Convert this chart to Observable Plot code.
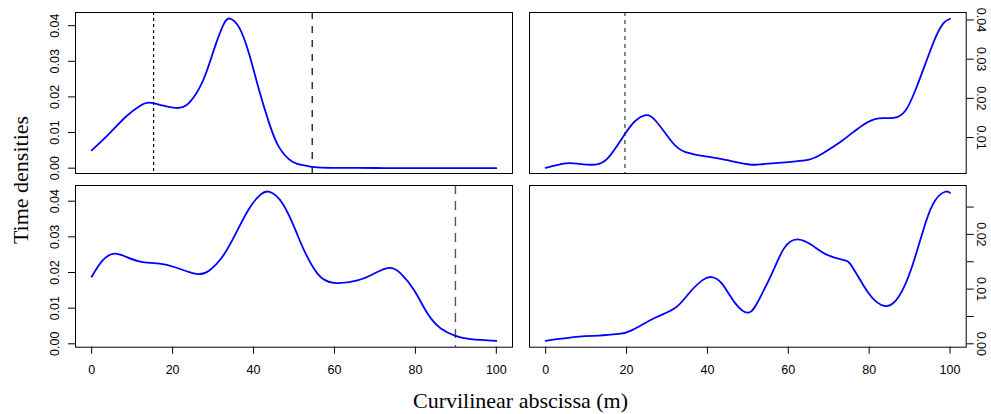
<!DOCTYPE html>
<html><head><meta charset="utf-8">
<script src="https://cdn.jsdelivr.net/npm/d3@7"></script>
<script src="https://cdn.jsdelivr.net/npm/@observablehq/plot@0.6"></script>
<style>
html,body{margin:0;padding:0;background:#fff;}
#chart{position:relative;width:991px;height:414px;overflow:hidden;background:#fff;}
#chart svg{position:absolute;}
.lab{position:absolute;font-family:"Liberation Serif","Times New Roman",serif;font-size:22px;line-height:1;color:#000;white-space:nowrap;}
</style></head><body><div id="chart"></div>
<script>
// ---- data ----
const xTicks = [0, 20, 40, 60, 80, 100];
const yTicksA = [0, 0.01, 0.02, 0.03, 0.04];
const yTicksTR = [0.01, 0.02, 0.03, 0.04];
const yTicksBR = [0, 0.005, 0.01, 0.015, 0.02, 0.025];
const yLabelsBR = [0, 0.01, 0.02];

const tlX = [0, 4.35, 8.5, 11.8, 14.2, 17.5, 20.8, 23.3, 25.8, 28.2, 30.7, 32.7, 34.1, 36.4, 38.9, 41.4, 43.9, 46.3, 49.6, 52.5, 55, 60, 70, 80, 100];
const tlV = [0.0050, 0.0097, 0.0145, 0.0174, 0.0184, 0.0176, 0.0169, 0.0176, 0.0209, 0.0265, 0.0349, 0.0406, 0.0420, 0.0396, 0.0321, 0.0218, 0.0125, 0.0059, 0.0018, 0.0008, 0.0003, 0.0001, 0.00005, 0.0000, 0.0000];
const tlRuleDotted = [15.3];
const tlRuleDashed = [54.5];

const trX = [0, 4.9, 8.2, 12.3, 15.6, 19.6, 22.2, 24.7, 27.2, 31.3, 34.6, 39.5, 43.6, 50, 53.6, 59.3, 65.1, 68.4, 73.3, 78.3, 82.4, 86.1, 89, 91.4, 93.9, 96.4, 98.4, 100];
const trV = [0.0023, 0.0034, 0.0033, 0.0031, 0.0050, 0.0109, 0.0143, 0.0157, 0.0143, 0.0088, 0.0063, 0.0052, 0.0045, 0.0032, 0.0032, 0.0037, 0.0044, 0.0059, 0.0092, 0.0131, 0.0149, 0.0150, 0.0169, 0.0220, 0.0288, 0.0355, 0.0392, 0.0403];
const trRuleDotted = [19.6];

const blX = [0, 2.7, 5.6, 8.5, 12.6, 16.7, 20.8, 25.8, 29, 32.3, 35.6, 38.9, 41.8, 44.0, 47.2, 50.4, 52.5, 55.8, 59.9, 65.7, 69.8, 73.5, 76.4, 79.7, 83, 86.3, 89.9, 93.7, 100];
const blV = [0.0188, 0.0234, 0.0253, 0.0244, 0.0229, 0.0225, 0.0214, 0.0196, 0.0205, 0.0244, 0.0309, 0.0379, 0.0419, 0.0426, 0.0393, 0.0318, 0.0262, 0.0197, 0.0171, 0.0178, 0.0197, 0.0213, 0.0197, 0.0150, 0.0085, 0.0043, 0.0022, 0.0013, 0.0008];
const blRuleDashed = [89.9];

const brX = [0, 8.2, 13.2, 18.1, 21.4, 27.2, 32.1, 35.4, 38.7, 41, 43.6, 46.9, 50.2, 52.7, 56, 58.9, 62.2, 65.9, 69.2, 73.3, 75.8, 79.9, 84, 87.3, 90.6, 93.9, 96.4, 98.8, 100];
const brV = [0.00055, 0.0013, 0.0015, 0.0018, 0.0025, 0.0048, 0.0066, 0.0092, 0.0116, 0.0122, 0.0110, 0.0074, 0.0057, 0.0080, 0.0129, 0.0174, 0.0191, 0.0180, 0.0164, 0.0154, 0.0141, 0.0092, 0.0069, 0.0086, 0.0141, 0.0220, 0.0263, 0.0278, 0.0276];

const xLabel = "Curvilinear abscissa (m)";
const yLabel = "Time densities";

// ---- drawing ----
const fmt = d3.format(".2f");
const rows = (xs, vs) => xs.map((x, i) => ({x, v: vs[i]}));
const chart = document.getElementById("chart");
const style = {fontFamily: "'Liberation Sans', Arial, sans-serif", fontSize: "12.5px", background: "transparent", overflow: "visible", color: "black"};

function yAxis(side, ticks, labelSet) {
  const left = side === "left";
  return Plot.axisY(ticks, {
    anchor: side, tickSize: 7, tickPadding: left ? 9.7 : 4,
    tickRotate: left ? -90 : 90, textAnchor: "middle", lineAnchor: "bottom",
    tickFormat: d => (labelSet ? (labelSet.some(l => Math.abs(l - d) < 1e-9) ? fmt(d) : "") : fmt(d)),
    label: null, stroke: "black", fill: "black"
  });
}
function xAxis() {
  return Plot.axisX(xTicks, {anchor: "bottom", tickSize: 7, tickPadding: 11.3, lineAnchor: "top", label: null, stroke: "black", fill: "black"});
}

function panel(cfg) {
  const p = Plot.plot({
    width: cfg.w, height: cfg.h,
    marginLeft: cfg.ml, marginRight: cfg.mr, marginTop: cfg.mt, marginBottom: cfg.mb,
    style,
    x: {domain: [-4, 104], label: null, axis: null},
    y: {domain: cfg.yd, label: null, axis: null},
    marks: cfg.marks
  });
  p.style.left = cfg.left + "px";
  p.style.top = cfg.top + "px";
  chart.appendChild(p);
}

const lineOpts = {x: "x", y: "v", stroke: "#0000ff", strokeWidth: 1.8, curve: "natural"};

// top-left
panel({left: 0, top: 0, w: 520, h: 180, ml: 75, mr: 8, mt: 12, mb: 7, yd: [-0.0015, 0.0437],
  marks: [
    Plot.ruleX(tlRuleDotted, {stroke: "black", strokeWidth: 1.2, strokeDasharray: "3,3"}),
    Plot.ruleX(tlRuleDashed, {stroke: "black", strokeWidth: 1.2, strokeDasharray: "7,7"}),
    Plot.line(rows(tlX, tlV), lineOpts),
    Plot.frame({stroke: "black"}),
    yAxis("left", yTicksA)
  ]});
// top-right
panel({left: 520, top: 0, w: 471, h: 180, ml: 9, mr: 25.3, mt: 12, mb: 7, yd: [0.00084, 0.0419],
  marks: [
    Plot.ruleX(trRuleDotted, {stroke: "#555", strokeWidth: 1.4, strokeDasharray: "4,4"}),
    Plot.line(rows(trX, trV), lineOpts),
    Plot.frame({stroke: "black"}),
    yAxis("right", yTicksTR)
  ]});
// bottom-left
panel({left: 0, top: 180, w: 520, h: 234, ml: 75, mr: 8, mt: 5, mb: 67.3, yd: [-0.00095, 0.0444],
  marks: [
    Plot.ruleX(blRuleDashed, {stroke: "#555", strokeWidth: 1.4, strokeDasharray: "9,7"}),
    Plot.line(rows(blX, blV), lineOpts),
    Plot.frame({stroke: "black"}),
    yAxis("left", yTicksA),
    xAxis()
  ]});
// bottom-right
panel({left: 520, top: 180, w: 471, h: 234, ml: 9, mr: 25.3, mt: 5, mb: 67.3, yd: [-0.00062, 0.02894],
  marks: [
    Plot.line(rows(brX, brV), lineOpts),
    Plot.frame({stroke: "black"}),
    yAxis("right", yTicksBR, yLabelsBR),
    xAxis()
  ]});

// axis titles
const xl = document.createElement("div");
xl.className = "lab"; xl.textContent = xLabel;
xl.style.left = "520.5px"; xl.style.top = "389.6px"; xl.style.transform = "translateX(-50%)";
chart.appendChild(xl);
const yl = document.createElement("div");
yl.className = "lab"; yl.textContent = yLabel;
yl.style.left = "20.9px"; yl.style.top = "180px"; yl.style.transform = "translate(-50%,-50%) rotate(-90deg)";
chart.appendChild(yl);
</script></body></html>
